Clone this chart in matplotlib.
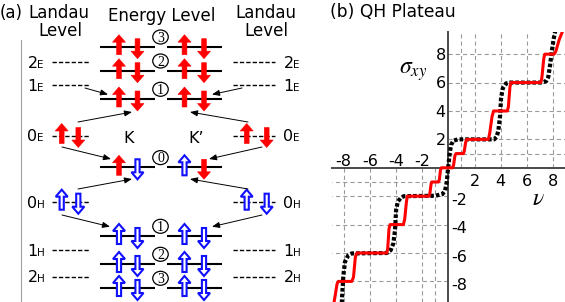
import matplotlib
matplotlib.use('Agg')
import matplotlib.pyplot as plt
from matplotlib.patches import Polygon, Ellipse

plt.rcParams['font.family'] = ['DejaVu Sans']
plt.rcParams['mathtext.fontset'] = 'stix'
plt.rcParams['lines.scale_dashes'] = False

# ---------------- data ----------------
# panel (a): labels
PANEL_A_TITLE = '(a)'
LEFT_HEAD = ['Landau', 'Level']
CENTER_HEAD = 'Energy Level'
RIGHT_HEAD = ['Landau', 'Level']
LANDAU_NUMS = ['2', '1', '0', '0', '1', '2']
LANDAU_SUBS = ['E', 'E', 'E', 'H', 'H', 'H']
LEVEL_NUMS = ['3', '2', '1', '0', '1', '2', '3']
# spin kinds on each energy level: (K up, K down, K' up, K' down); r = electron (red), b = hole (blue)
LEVEL_SPINS = [('r', 'r', 'r', 'r'), ('r', 'r', 'r', 'r'), ('r', 'r', 'r', 'r'),
               ('r', 'b', 'b', 'r'),
               ('b', 'b', 'b', 'b'), ('b', 'b', 'b', 'b'), ('b', 'b', 'b', 'b')]
ZERO_SPINS = {'0E': ('r', 'r'), '0H': ('b', 'b')}
VALLEYS = ['K', 'K\u2019']

# panel (b): QH plateau curves
PANEL_B_TITLE = '(b) QH Plateau'
RED_NU = [-8.75, -8.62, -8.5, -8.4, -7.37, -7.24, -7.1, -6.99, -4.70, -4.63, -4.53, -4.45,
          -3.43, -3.33, -3.2, -3.13, -1.47, -1.41, -1.32, -1.27, -0.76, -0.69, -0.6, -0.53,
          0.33, 0.40, 0.50, 0.58, 1.15, 1.22, 1.32, 1.40, 3.05, 3.15, 3.33, 3.45,
          4.50, 4.58, 4.70, 4.78, 7.05, 7.13, 7.28, 7.36, 8.07, 8.2, 8.45, 8.75]
RED_SIG = [-9.6, -8.9, -8.2, -8.0, -8.0, -7.7, -6.3, -6.0, -6.0, -5.7, -4.3, -4.0,
           -4.0, -3.6, -2.4, -2.0, -2.0, -1.8, -1.15, -1.0, -1.0, -0.85, -0.15, 0.0,
           0.0, 0.2, 0.85, 1.0, 1.0, 1.2, 1.8, 2.0, 2.0, 2.4, 3.6, 4.0,
           4.0, 4.3, 5.7, 6.0, 6.0, 6.3, 7.7, 8.0, 8.0, 8.2, 9.0, 9.7]
BLK_NU = [-8.14, -8.02, -7.89, -7.63, -7.37, -4.70, -4.40, -4.20, -4.07, -3.99, -3.86, -3.63,
          -3.40, -1.00, -0.45, -0.25, -0.12, -0.05, 0.02, 0.10, 0.20, 0.38, 0.70,
          3.49, 3.69, 3.82, 3.95, 4.02, 4.15, 4.40, 4.70, 7.13, 7.46, 7.63, 7.76, 7.89, 8.02, 8.15]
BLK_SIG = [-9.6, -7.67, -6.62, -6.15, -6.03, -6.0, -5.8, -5.33, -4.39, -2.98, -2.39, -2.11,
           -2.0, -1.97, -1.85, -1.6, -1.0, -0.3, 0.3, 1.0, 1.6, 1.9, 2.0,
           2.0, 2.18, 2.65, 3.71, 4.89, 5.59, 5.94, 6.0, 6.0, 6.1, 6.41, 7.23, 8.17, 9.0, 9.6]
GRID_POS = [1, 2, 4, 6, 8]
GRID_NEG = [-1, -2, -4, -6, -8]
XTICK_NEG = [-8, -6, -4, -2]
XTICK_POS = [2, 4, 6, 8]
YTICK_POS = [8, 6, 4, 2]
YTICK_NEG = [-2, -4, -6, -8]

# ---------------- style / layout ----------------
RED = '#ff0000'
BLUE = '#1010ff'
W, H = 565, 302
fig = plt.figure(figsize=(W / 100, H / 100), dpi=100)

axA = fig.add_axes([0, 0, 1, 1])
axA.set_xlim(0, W)
axA.set_ylim(H, 0)
axA.axis('off')

FS = 12
# headers
axA.text(0, 18.3, PANEL_A_TITLE, fontsize=FS, ha='left', va='baseline')
axA.text(59, 18.3, LEFT_HEAD[0], fontsize=FS, ha='center', va='baseline')
axA.text(60, 35.7, LEFT_HEAD[1], fontsize=FS, ha='center', va='baseline')
axA.text(162, 20.7, CENTER_HEAD, fontsize=FS, ha='center', va='baseline')
axA.text(266, 18.3, RIGHT_HEAD[0], fontsize=FS, ha='center', va='baseline')
axA.text(266.5, 35.7, RIGHT_HEAD[1], fontsize=FS, ha='center', va='baseline')
axA.text(329.5, 17.3, PANEL_B_TITLE, fontsize=12.3, ha='left', va='baseline')

# vertical gray separator
axA.plot([20.7, 20.7], [40, H], color='#a0a0a0', lw=0.8)


def block_arrow(x, y_tail, y_tip, kind):
    d = 1 if y_tip > y_tail else -1
    if kind == 'r':
        hl, hw, sw = 7.5, 6.5, 2.4
    else:
        hl, hw, sw = 7.0, 6.0, 2.1
    yb = y_tip - d * hl
    pts = [(x, y_tip), (x + hw, yb), (x + sw, yb), (x + sw, y_tail),
           (x - sw, y_tail), (x - sw, yb), (x - hw, yb)]
    if kind == 'r':
        p = Polygon(pts, closed=True, fc=RED, ec=RED, lw=0.4, zorder=4)
    else:
        p = Polygon(pts, closed=True, fc='white', ec=BLUE, lw=1.5, joinstyle='miter', zorder=4)
    axA.add_patch(p)


def spin_pair(x_up, x_dn, yl, k_up, k_dn):
    block_arrow(x_up, yl + 8, yl - 12, k_up)
    block_arrow(x_dn, yl - 8, yl + 12, k_dn)


# energy levels
LEVEL_Y = [46.7, 70.7, 99, 167.3, 236, 264, 288]
for num, yl, spins in zip(LEVEL_NUMS, LEVEL_Y, LEVEL_SPINS):
    axA.plot([100, 155], [yl, yl], color='black', lw=1.5, zorder=2, solid_capstyle='butt')
    axA.plot([167, 222], [yl, yl], color='black', lw=1.5, zorder=2, solid_capstyle='butt')
    spin_pair(119, 137.5, yl, spins[0], spins[1])
    spin_pair(184.5, 204, yl, spins[2], spins[3])
    cy = yl - 9.7
    axA.add_patch(Ellipse((160.5, cy), 15.5, 14, fc='white', ec='black', lw=0.9, zorder=3))
    axA.text(160.5, cy + 4.6, num, fontsize=10, family='Liberation Serif',
             ha='center', va='baseline', zorder=5)

# Landau levels
LANDAU_Y = [61.7, 85, 135.5, 201.7, 250, 276.7]
for num, sub, yl in zip(LANDAU_NUMS, LANDAU_SUBS, LANDAU_Y):
    for xl, xr, xt in [(51.5, 90, 27.5), (233, 275, 283.5)]:
        axA.plot([xl, xr], [yl, yl], color='black', lw=1.0, dashes=(3.1, 1.5), zorder=2)
        axA.text(xt, yl + 5.8, num, fontsize=11.5, ha='left', va='baseline')
        axA.text(xt + 9.5, yl + 5.8, sub, fontsize=7.5, ha='left', va='baseline')

for key, yl in [('0E', 135.5), ('0H', 201.7)]:
    ku, kd = ZERO_SPINS[key]
    spin_pair(61.7, 78.3, yl, ku, kd)
    spin_pair(246.7, 266.7, yl, ku, kd)

# valley labels
axA.text(128.3, 143.3, VALLEYS[0], fontsize=11.5, ha='center', va='baseline')
axA.text(196, 143.3, VALLEYS[1], fontsize=11.5, ha='center', va='baseline')

# thin annotation arrows
ARROWS = [((85, 88), (108, 94.5)), ((242, 88), (212, 94.5)),
          ((78, 122), (132, 112)), ((248, 122), (190, 112)),
          ((62, 147), (111, 159)), ((262, 147), (209, 159)),
          ((78, 189), (132, 179)), ((248, 189), (190, 179)),
          ((62, 215), (110, 226.7)), ((262, 215), (212, 226.7))]
for start, tip in ARROWS:
    axA.annotate('', xy=tip, xytext=start,
                 arrowprops=dict(arrowstyle='-|>,head_length=0.5,head_width=0.2',
                                 lw=0.7, color='black', mutation_scale=9,
                                 shrinkA=0, shrinkB=0), zorder=6)

# ---------------- panel (b) ----------------
axB = fig.add_axes([332 / W, 0, 233 / W, 270 / H])
axB.patch.set_alpha(0)
axB.set_xlim(-8.88, 8.9)
axB.set_ylim(-9.45, 9.56)
for s in ['top', 'right']:
    axB.spines[s].set_visible(False)
for s in ['left', 'bottom']:
    axB.spines[s].set_position(('data', 0))
    axB.spines[s].set_color('#4a4a4a')
    axB.spines[s].set_linewidth(1.4)
axB.set_xticks([])
axB.set_yticks([])

gkw = dict(color='#9a9a9a', lw=0.8, dashes=(3.0, 2.2), zorder=1)
for g in GRID_POS:
    axB.plot([g, g], [0, 9.56], **gkw)
    axB.plot([0, 8.9], [g, g], **gkw)
for g in GRID_NEG:
    axB.plot([g, g], [0, -9.45], **gkw)
    axB.plot([0, -8.88], [g, g], **gkw)

axB.plot(BLK_NU, BLK_SIG, color='black', lw=3.0, dashes=(2.6, 1.5), zorder=3)
axB.plot(RED_NU, RED_SIG, color=RED, lw=2.2, zorder=4, solid_joinstyle='round')

TFS = 11.5
for v in XTICK_NEG:
    axB.text(v, 0.12, str(v), fontsize=TFS, ha='center', va='baseline')
for v in XTICK_POS:
    axB.text(v, -1.29, str(v), fontsize=TFS, ha='center', va='baseline')
for v in YTICK_POS:
    axB.text(-0.2, v - 0.41, str(v), fontsize=TFS, ha='right', va='baseline')
for v in YTICK_NEG:
    axB.text(0.2, v - 0.6, str(v), fontsize=TFS, ha='left', va='baseline')

axB.text(-2.7, 6.6, r'$\sigma_{xy}$', fontsize=17, ha='center', va='baseline')
axB.text(6.85, -2.6, r'$\nu$', fontsize=17, ha='center', va='baseline')

fig.savefig('out.png', dpi=100)
